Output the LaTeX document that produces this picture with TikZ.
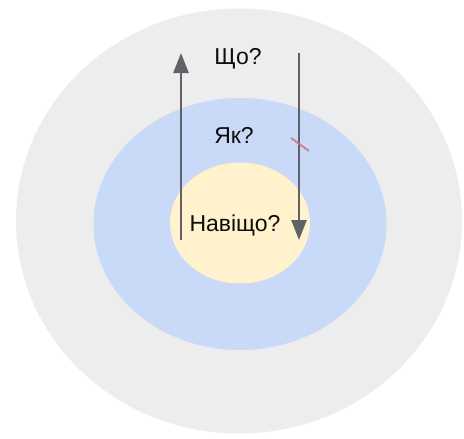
\documentclass[tikz,border=0pt]{standalone}
\usepackage{fontspec}
\setmainfont{Liberation Sans}
\usetikzlibrary{arrows.meta,shapes.geometric}
\definecolor{outergray}{HTML}{EDEDED}
\definecolor{midblue}{HTML}{C9DAF8}
\definecolor{inneryellow}{HTML}{FFF2CC}
\definecolor{arrowgray}{HTML}{5F6368}
\definecolor{tickred}{HTML}{D9667A}
\tikzset{
  ring/.style={ellipse, draw=none, inner sep=0pt},
  lbl/.style={font=\fontsize{23}{27}\selectfont, text=black!95},
  flow/.style={draw=arrowgray, line width=2.6pt, -{Triangle[length=20pt,width=15pt]}},
}
\begin{document}
\begin{tikzpicture}[x=1pt,y=-1pt]
\useasboundingbox[fill=white] (0,0) rectangle (464,439);
\node[ring, fill=outergray, minimum width=446pt, minimum height=425pt] (outer) at (239,221) {};
\node[ring, fill=midblue, minimum width=293pt, minimum height=252pt] (mid) at (240,224) {};
\node[ring, fill=inneryellow, minimum width=140pt, minimum height=121pt] (inner) at (240,223) {};
\node[lbl] (what) at (238,59) {Що?};
\node[lbl] (how) at (234,135) {Як?};
\node[lbl] (why) at (235,225) {Навіщо?};
\coordinate (upstart) at (181,240);
\coordinate (upend) at (181,53);
\coordinate (downstart) at (299,53);
\coordinate (downend) at (299,240);
\draw[flow] (upstart) -- (upend);
\draw[flow] (downstart) -- (downend);
\coordinate (ta) at (291,138);
\coordinate (tb) at (309,151);
\draw[tickred, line width=1.8pt, opacity=0.85] (ta) -- (tb);
\end{tikzpicture}
\end{document}
